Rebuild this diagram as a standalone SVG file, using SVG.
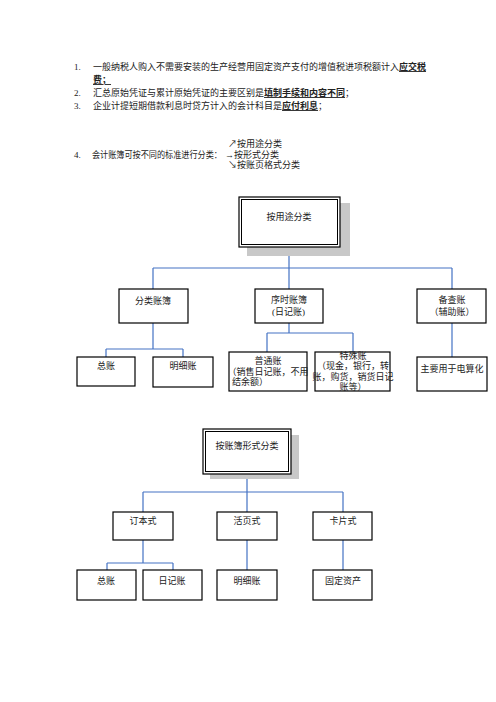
<svg xmlns="http://www.w3.org/2000/svg" width="496" height="702" viewBox="0 0 496 702">
<style>
text{font-family:"Liberation Serif","Noto Sans CJK SC",serif;font-size:9px;fill:#222}
.c{text-anchor:middle}
.b{font-weight:bold;text-decoration:underline}
.box{fill:#fff;stroke:#000;stroke-width:1.2}
.sh{fill:#c8c8c8}
.ln{fill:none;stroke:#4472c4;stroke-width:1.2}
</style>
<rect width="496" height="702" fill="#fff"/>
<g id="text">
<text x="74" y="70">1.</text>
<text x="93" y="70">一般纳税人购入不需要安装的生产经营用固定资产支付的增值税进项税额计入<tspan class="b">应交税</tspan></text>
<text x="93" y="83"><tspan class="b">费；</tspan></text>
<text x="74" y="96">2.</text>
<text x="93" y="96">汇总原始凭证与累计原始凭证的主要区别是<tspan class="b">填制手续和内容不同</tspan>；</text>
<text x="74" y="109">3.</text>
<text x="93" y="109">企业计提短期借款利息时贷方计入的会计科目是<tspan class="b">应付利息</tspan>；</text>
<text x="228" y="147">↗按用途分类</text>
<text x="74" y="158">4.</text>
<text x="92" y="158" textLength="130" lengthAdjust="spacingAndGlyphs">会计账簿可按不同的标准进行分类：</text>
<text x="225" y="158">→按形式分类</text>
<text x="228" y="168">↘按账页格式分类</text>
</g>
<g id="connectors">
<path class="ln" d="M289 256V268M153 268H452M153 268V289M289 268V289M452 268V289"/>
<path class="ln" d="M153 323V349M106 349H183M106 349V357M183 349V357"/>
<path class="ln" d="M289 323V333M267 333H353M267 333V352M353 333V352"/>
<path class="ln" d="M452 323V357"/>
<path class="ln" d="M247 479V492M143 492H343M143 492V512M247 492V512M343 492V512"/>
<path class="ln" d="M143 540V563M107 563H173M107 563V570M173 563V570"/>
<path class="ln" d="M247 540V570M343 540V570"/>
</g>
<g id="n_yongtu">
<rect class="sh" x="247" y="203" width="103" height="53"/>
<rect class="box" x="239" y="197" width="101" height="50" stroke-width="1.5"/>
<rect x="241.5" y="199.5" width="96" height="45" fill="none" stroke="#000" stroke-width="1"/>
<text class="c" x="289" y="220">按用途分类</text>
</g>
<g id="n_fenlei"><rect class="box" x="119" y="289" width="69" height="34"/><text class="c" x="153" y="304">分类账簿</text></g>
<g id="n_xushi"><rect class="box" x="255" y="289" width="68" height="34"/><text class="c" x="289" y="303">序时账簿</text><text x="272" y="315">(日记账)</text></g>
<g id="n_beicha"><rect class="box" x="417" y="289" width="69" height="34"/><text class="c" x="452" y="303">备查账</text><text class="c" x="452" y="315">（辅助账）</text></g>
<g id="n_zong1"><rect class="box" x="77" y="357" width="58" height="29"/><text class="c" x="106" y="369">总账</text></g>
<g id="n_mingxi1"><rect class="box" x="153" y="357" width="60" height="30"/><text class="c" x="183" y="369">明细账</text></g>
<g id="n_putong"><rect class="box" x="229" y="352" width="78" height="39"/><text class="c" x="268" y="364">普通账</text><text class="c" x="268" y="375">（销售日记账，不用</text><text x="232" y="385">结余额）</text></g>
<g id="n_teshu"><rect class="box" x="315" y="352" width="75" height="39"/><text class="c" x="353" y="359">特殊账</text><text class="c" x="353" y="369">（现金，银行，转</text><text class="c" x="353" y="380">账，购货，销货日记</text><text class="c" x="353" y="390">账等）</text></g>
<g id="n_diansuan"><rect class="box" x="417" y="357" width="70" height="34"/><text class="c" x="452" y="372">主要用于电算化</text></g>
<g id="n_xingshi">
<rect class="sh" x="210" y="435" width="89" height="44"/>
<rect class="box" x="203" y="429" width="88" height="45" stroke-width="1.5"/>
<rect x="205.5" y="431.5" width="83" height="40" fill="none" stroke="#000" stroke-width="1"/>
<text class="c" x="247" y="449">按账簿形式分类</text>
</g>
<g id="n_dingben"><rect class="box" x="113" y="512" width="60" height="28"/><text class="c" x="143" y="524">订本式</text></g>
<g id="n_huoye"><rect class="box" x="217" y="512" width="60" height="28"/><text class="c" x="247" y="524">活页式</text></g>
<g id="n_kapian"><rect class="box" x="313" y="512" width="59" height="28"/><text class="c" x="343" y="524">卡片式</text></g>
<g id="n_zong2"><rect class="box" x="77" y="570" width="59" height="30"/><text class="c" x="106" y="584">总账</text></g>
<g id="n_riji"><rect class="box" x="143" y="570" width="59" height="30"/><text class="c" x="172" y="584">日记账</text></g>
<g id="n_mingxi2"><rect class="box" x="217" y="570" width="60" height="30"/><text class="c" x="247" y="584">明细账</text></g>
<g id="n_guding"><rect class="box" x="313" y="570" width="59" height="30"/><text class="c" x="343" y="584">固定资产</text></g>
</svg>
